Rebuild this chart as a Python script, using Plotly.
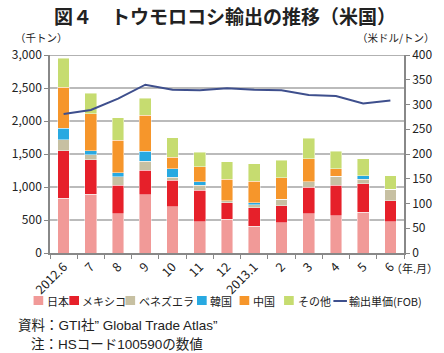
import plotly.graph_objects as go

months = ["2012.6", "7", "8", "9", "10", "11", "12", "2013.1", "2", "3", "4", "5", "6"]
japan = [833, 894, 596, 885, 699, 473, 515, 405, 462, 598, 563, 614, 473]
mexico = [717, 520, 429, 367, 403, 478, 250, 280, 255, 402, 462, 432, 317]
venezuela = [167, 71, 132, 136, 45, 75, 25, 45, 95, 80, 136, 71, 176]
korea = [172, 65, 60, 156, 126, 55, 0, 30, 0, 0, 0, 50, 0]
china = [621, 561, 490, 546, 175, 227, 325, 330, 330, 347, 115, 0, 0]
other = [439, 313, 344, 252, 302, 221, 265, 265, 260, 312, 267, 261, 201]
unit_price = [281, 289, 312, 340, 330, 329, 333, 330, 329, 319, 317, 302, 308]

series = [
    ("日本", japan, "#F19A98"),
    ("メキシコ", mexico, "#E6202A"),
    ("ベネズエラ", venezuela, "#C7C0A2"),
    ("韓国", korea, "#28A9E1"),
    ("中国", china, "#F6962B"),
    ("その他", other, "#C6DC70"),
]
line_color = "#3E4F8D"
FONT = "Noto Sans CJK JP"
SRC_FONT = "Liberation Sans, Noto Sans CJK JP"

W, H = 444, 353
L, R, T, B = 41, 37, 55, 100
PW, PH = W - L - R, H - T - B


def px(x):
    return (x - L) / PW


def py(y):
    return (H - B - y) / PH


fig = go.Figure()
for name, vals, col in series:
    fig.add_trace(go.Bar(
        x=months, y=vals, name=name, marker_color=col,
        marker_line=dict(color="rgba(255,255,255,0.55)", width=0.8),
        showlegend=False,
    ))
fig.add_trace(go.Scatter(
    x=months, y=unit_price, name="輸出単価(FOB)", yaxis="y2", mode="lines",
    line=dict(color=line_color, width=2), showlegend=False,
))

annotations = [
    dict(text="<b>図４　トウモロコシ輸出の推移（米国）</b>", x=px(222), y=py(16), font=dict(size=19, color="#222")),
    dict(text="（千トン）", x=px(3), y=py(37), xanchor="left", font=dict(size=10.5, color="#222")),
    dict(text="（米ドル/トン）", x=px(441), y=py(37), xanchor="right", font=dict(size=10.5, color="#222")),
    dict(text="（年.月）", x=px(392), y=py(268), xanchor="left", font=dict(size=11, color="#222")),
    dict(text="資料：GTI社” Global Trade Atlas”", x=px(6), y=py(325), xanchor="left",
         font=dict(size=13.5, color="#222", family=SRC_FONT)),
    dict(text="注：HSコード100590の数値", x=px(19), y=py(344), xanchor="left",
         font=dict(size=13.5, color="#222", family=SRC_FONT)),
]
shapes = []
legend_pos = [(24, 36), (61, 72), (119, 131), (193, 204), (237, 249), (283, 295)]
for (name, vals, col), (sx, tx) in zip(series, legend_pos):
    shapes.append(dict(type="rect", xref="paper", yref="paper", x0=px(sx), x1=px(sx + 10),
                       y0=py(305), y1=py(296), fillcolor=col, line=dict(width=0)))
    annotations.append(dict(text=name, x=px(tx), y=py(301), xanchor="left",
                            font=dict(size=11, color="#222")))
shapes.append(dict(type="line", xref="paper", yref="paper", x0=px(334), x1=px(348),
                   y0=py(301), y1=py(301), line=dict(color=line_color, width=2)))
annotations.append(dict(text="輸出単価(FOB)", x=px(348), y=py(301), xanchor="left",
                        font=dict(size=11, color="#222")))
for a in annotations:
    a.update(xref="paper", yref="paper", showarrow=False)
    a.setdefault("xanchor", "center")
    a.setdefault("yanchor", "middle")

fig.update_layout(
    width=W, height=H, margin=dict(l=L, r=R, t=T, b=B),
    barmode="stack", bargap=0.57,
    plot_bgcolor="white", paper_bgcolor="white",
    font=dict(family=FONT, size=11, color="#222"),
    annotations=annotations, shapes=shapes,
    xaxis=dict(type="category", tickangle=-45, tickson="boundaries", ticks="outside",
               ticklen=4, tickcolor="#888", showline=True, linecolor="#888", linewidth=1.5,
               tickfont=dict(size=12.5), showgrid=False),
    yaxis=dict(range=[0, 3000], dtick=500, tickformat=",d", showgrid=True, gridcolor="#BBBBBB",
               gridwidth=1.5, showline=True, linecolor="#888", linewidth=1.5, ticks="outside",
               ticklen=4, tickcolor="#888", tickfont=dict(size=12), zeroline=False, mirror=False),
    yaxis2=dict(range=[0, 400], dtick=50, overlaying="y", side="right", showgrid=False,
                showline=True, linecolor="#888", linewidth=1.5, ticks="outside", ticklen=4,
                tickcolor="#888", tickfont=dict(size=12), zeroline=False),
)
fig.add_shape(type="line", xref="paper", yref="y", x0=0, x1=1, y0=3000, y1=3000,
              line=dict(color="#999", width=1.5), layer="below")

fig.write_html("out.html")
